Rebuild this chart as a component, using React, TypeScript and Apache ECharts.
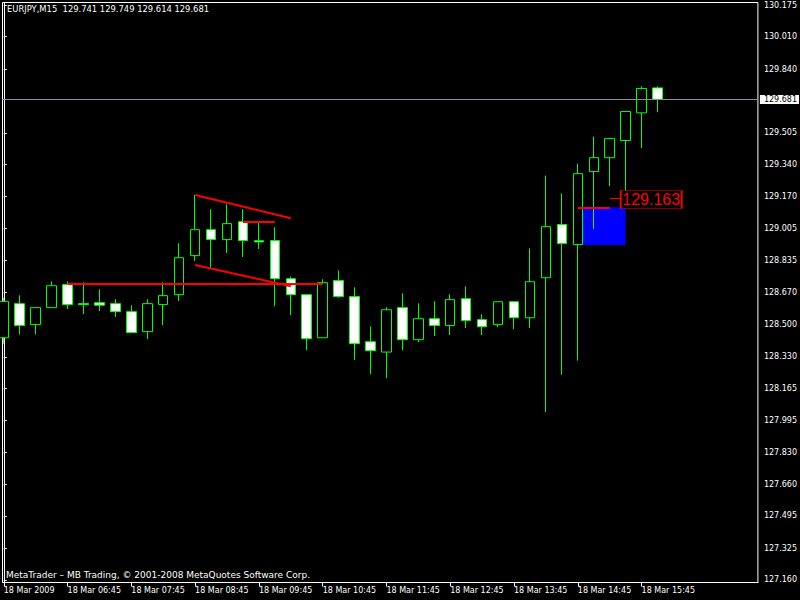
import { useEffect, useRef } from "react";
import * as echarts from "echarts";

// EURJPY M15, 18 Mar 2009, one candle per 15 minutes from 05:45 to 16:00
const opens = [
  128.43, 128.609, 128.499, 128.588, 128.709, 128.609, 128.614, 128.609, 128.567, 128.462,
  128.604, 128.656, 128.861, 128.997, 128.945, 129.039, 128.939, 128.94, 128.74, 128.656,
  128.43, 128.73, 128.646, 128.409, 128.355, 128.588, 128.42, 128.53, 128.494, 128.635,
  128.525, 128.499, 128.619, 128.535, 128.745, 129.024, 128.919, 129.302, 129.375, 129.465,
  129.61, 129.741,
];
const highs = [
  128.64, 128.653, 128.59, 128.726, 128.726, 128.721, 128.684, 128.632, 128.6, 128.632,
  128.721, 128.926, 129.179, 129.104, 129.13, 129.104, 129.041, 129.01, 128.751, 128.656,
  128.737, 128.784, 128.695, 128.49, 128.59, 128.663, 128.611, 128.621, 128.658, 128.7,
  128.553, 128.619, 128.62, 128.899, 129.281, 129.187, 129.344, 129.486, 129.48, 129.617,
  129.75, 129.749,
];
const lows = [
  128.399, 128.448, 128.448, 128.586, 128.581, 128.554, 128.57, 128.539, 128.457, 128.423,
  128.497, 128.623, 128.833, 128.798, 128.875, 128.854, 128.896, 128.595, 128.549, 128.365,
  128.43, 128.64, 128.313, 128.239, 128.218, 128.365, 128.407, 128.439, 128.444, 128.481,
  128.444, 128.486, 128.475, 128.481, 128.04, 128.236, 128.31, 129.001, 129.226, 129.2,
  129.426, 129.614,
];
const closes = [
  128.621, 128.494, 128.588, 128.703, 128.604, 128.604, 128.601, 128.567, 128.457, 128.609,
  128.651, 128.85, 128.997, 128.945, 129.029, 128.94, 128.933, 128.74, 128.656, 128.425,
  128.719, 128.646, 128.399, 128.362, 128.577, 128.42, 128.53, 128.494, 128.63, 128.52,
  128.488, 128.619, 128.535, 128.724, 129.013, 128.924, 129.291, 129.375, 129.475, 129.617,
  129.738, 129.681,
];

const chartTitle = "EURJPY,M15  129.741 129.749 129.614 129.681";
const footerText = "MetaTrader – MB Trading, © 2001-2008 MetaQuotes Software Corp.";

// time scale marks (bar index -> label)
const timeTickBars = [0, 4, 8, 12, 16, 20, 24, 28, 32, 36, 40];
const timeTickLabels = [
  "18 Mar 2009", "18 Mar 06:45", "18 Mar 07:45", "18 Mar 08:45", "18 Mar 09:45",
  "18 Mar 10:45", "18 Mar 11:45", "18 Mar 12:45", "18 Mar 13:45", "18 Mar 14:45",
  "18 Mar 15:45",
];

// price scale marks
const priceTicks = [
  127.16, 127.325, 127.495, 127.66, 127.83, 127.995, 128.165, 128.33, 128.5, 128.67,
  128.835, 129.005, 129.17, 129.34, 129.505, 129.84, 130.01, 130.175,
];

const bidPrice = 129.681;

// chart objects: [barFrom, priceFrom, barTo, priceTo]
const trendLines = [
  [4, 128.712, 20, 128.712],
  [12, 129.179, 18, 129.057],
  [12, 128.812, 18, 128.7],
  [15, 129.037, 17, 129.037],
  [36, 129.112, 38, 129.112],
];
const zoneBox = [36, 129.115, 39, 128.917];
const priceLabel = { bar: 38, price: 129.163 };

const FONT = '"DejaVu Sans", sans-serif';

export default function App() {
  const ref = useRef<HTMLDivElement>(null);

  useEffect(() => {
    if (!ref.current) return;
    const chart = echarts.init(ref.current, null, { renderer: "svg" });

    const candles = opens.map((o, i) => [i, o, closes[i], lows[i], highs[i]]);

    const lineData: any[] = trendLines.map(([x1, y1, x2, y2]) => [
      { coord: [x1, y1] },
      { coord: [x2, y2] },
    ]);
    // leader from the anchor to the price box
    lineData.push([
      { coord: [priceLabel.bar, priceLabel.price], lineStyle: { width: 1 } },
      { coord: [priceLabel.bar + 0.68, priceLabel.price] },
    ]);
    // current bid line
    lineData.push({
      yAxis: bidPrice,
      lineStyle: { color: "#87909a", width: 1, type: "solid" },
      label: {
        show: true,
        position: "end",
        distance: 2,
        formatter: bidPrice.toFixed(3),
        backgroundColor: "#ffffff",
        color: "#000000",
        fontFamily: FONT,
        fontSize: 8,
        lineHeight: 9,
        padding: [0, 2, 0, 4],
      },
    });

    chart.setOption({
      animation: false,
      backgroundColor: "#000000",
      grid: {
        left: 2.5,
        top: 2.5,
        right: 39.5,
        bottom: 17.5,
        show: true,
        borderColor: "#ffffff",
        borderWidth: 1,
        backgroundColor: "#000000",
      },
      xAxis: {
        type: "value",
        min: -0.08,
        max: 47.295,
        axisLine: { show: true, lineStyle: { color: "#ffffff", width: 1 } },
        axisTick: {
          show: true,
          length: 4,
          customValues: timeTickBars,
          lineStyle: { color: "#ffffff" },
        },
        axisLabel: {
          customValues: timeTickBars,
          formatter: (v: number) => timeTickLabels[timeTickBars.indexOf(Math.round(v))] ?? "",
          align: "left",
          margin: 4,
          color: "#ffffff",
          fontFamily: FONT,
          fontSize: 8,
        },
        splitLine: { show: false },
      },
      yAxis: {
        type: "value",
        position: "right",
        min: 127.146,
        max: 130.189,
        axisLine: { show: true, lineStyle: { color: "#ffffff", width: 1 } },
        axisTick: {
          show: true,
          length: 3,
          customValues: priceTicks,
          lineStyle: { color: "#ffffff" },
        },
        axisLabel: {
          customValues: priceTicks,
          formatter: (v: number) => v.toFixed(3),
          margin: 6,
          color: "#ffffff",
          fontFamily: FONT,
          fontSize: 8,
        },
        splitLine: { show: false },
      },
      series: [
        {
          type: "candlestick",
          data: candles,
          barWidth: 10,
          clip: true,
          itemStyle: {
            color: "#000000",
            color0: "#ffffff",
            borderColor: "#00ff00",
            borderColor0: "#00ff00",
            borderWidth: 1,
          },
          markArea: {
            silent: true,
            itemStyle: { color: "#0000ff", opacity: 1 },
            data: [
              [
                { coord: [zoneBox[0], zoneBox[1]] },
                { coord: [zoneBox[2], zoneBox[3]] },
              ],
            ],
          },
          markLine: {
            silent: true,
            symbol: ["none", "none"],
            label: { show: false },
            lineStyle: { color: "#ff0000", width: 2, type: "solid" },
            data: lineData,
          },
          markPoint: {
            silent: true,
            data: [
              {
                coord: [priceLabel.bar, priceLabel.price],
                symbol: "rect",
                symbolSize: [61, 18],
                symbolOffset: [41.5, 1.5],
                itemStyle: { color: "#000000", borderColor: "#ff0000", borderWidth: 1 },
                label: {
                  show: true,
                  position: "inside",
                  formatter: priceLabel.price.toFixed(3),
                  color: "#ff0000",
                  fontFamily: '"Liberation Sans", sans-serif',
                  fontSize: 16,
                },
              },
            ],
          },
        },
      ],
      graphic: [
        {
          type: "text",
          left: 7,
          top: 5,
          style: { text: chartTitle, fill: "#ffffff", font: `8.4px ${FONT}` },
        },
        {
          type: "text",
          left: 6,
          top: 570,
          style: { text: footerText, fill: "#ffffff", font: `9px ${FONT}` },
        },
      ],
    });

    return () => chart.dispose();
  }, []);

  return (
    <div
      ref={ref}
      style={{ position: "absolute", left: 0, top: 0, width: 800, height: 600 }}
    />
  );
}
